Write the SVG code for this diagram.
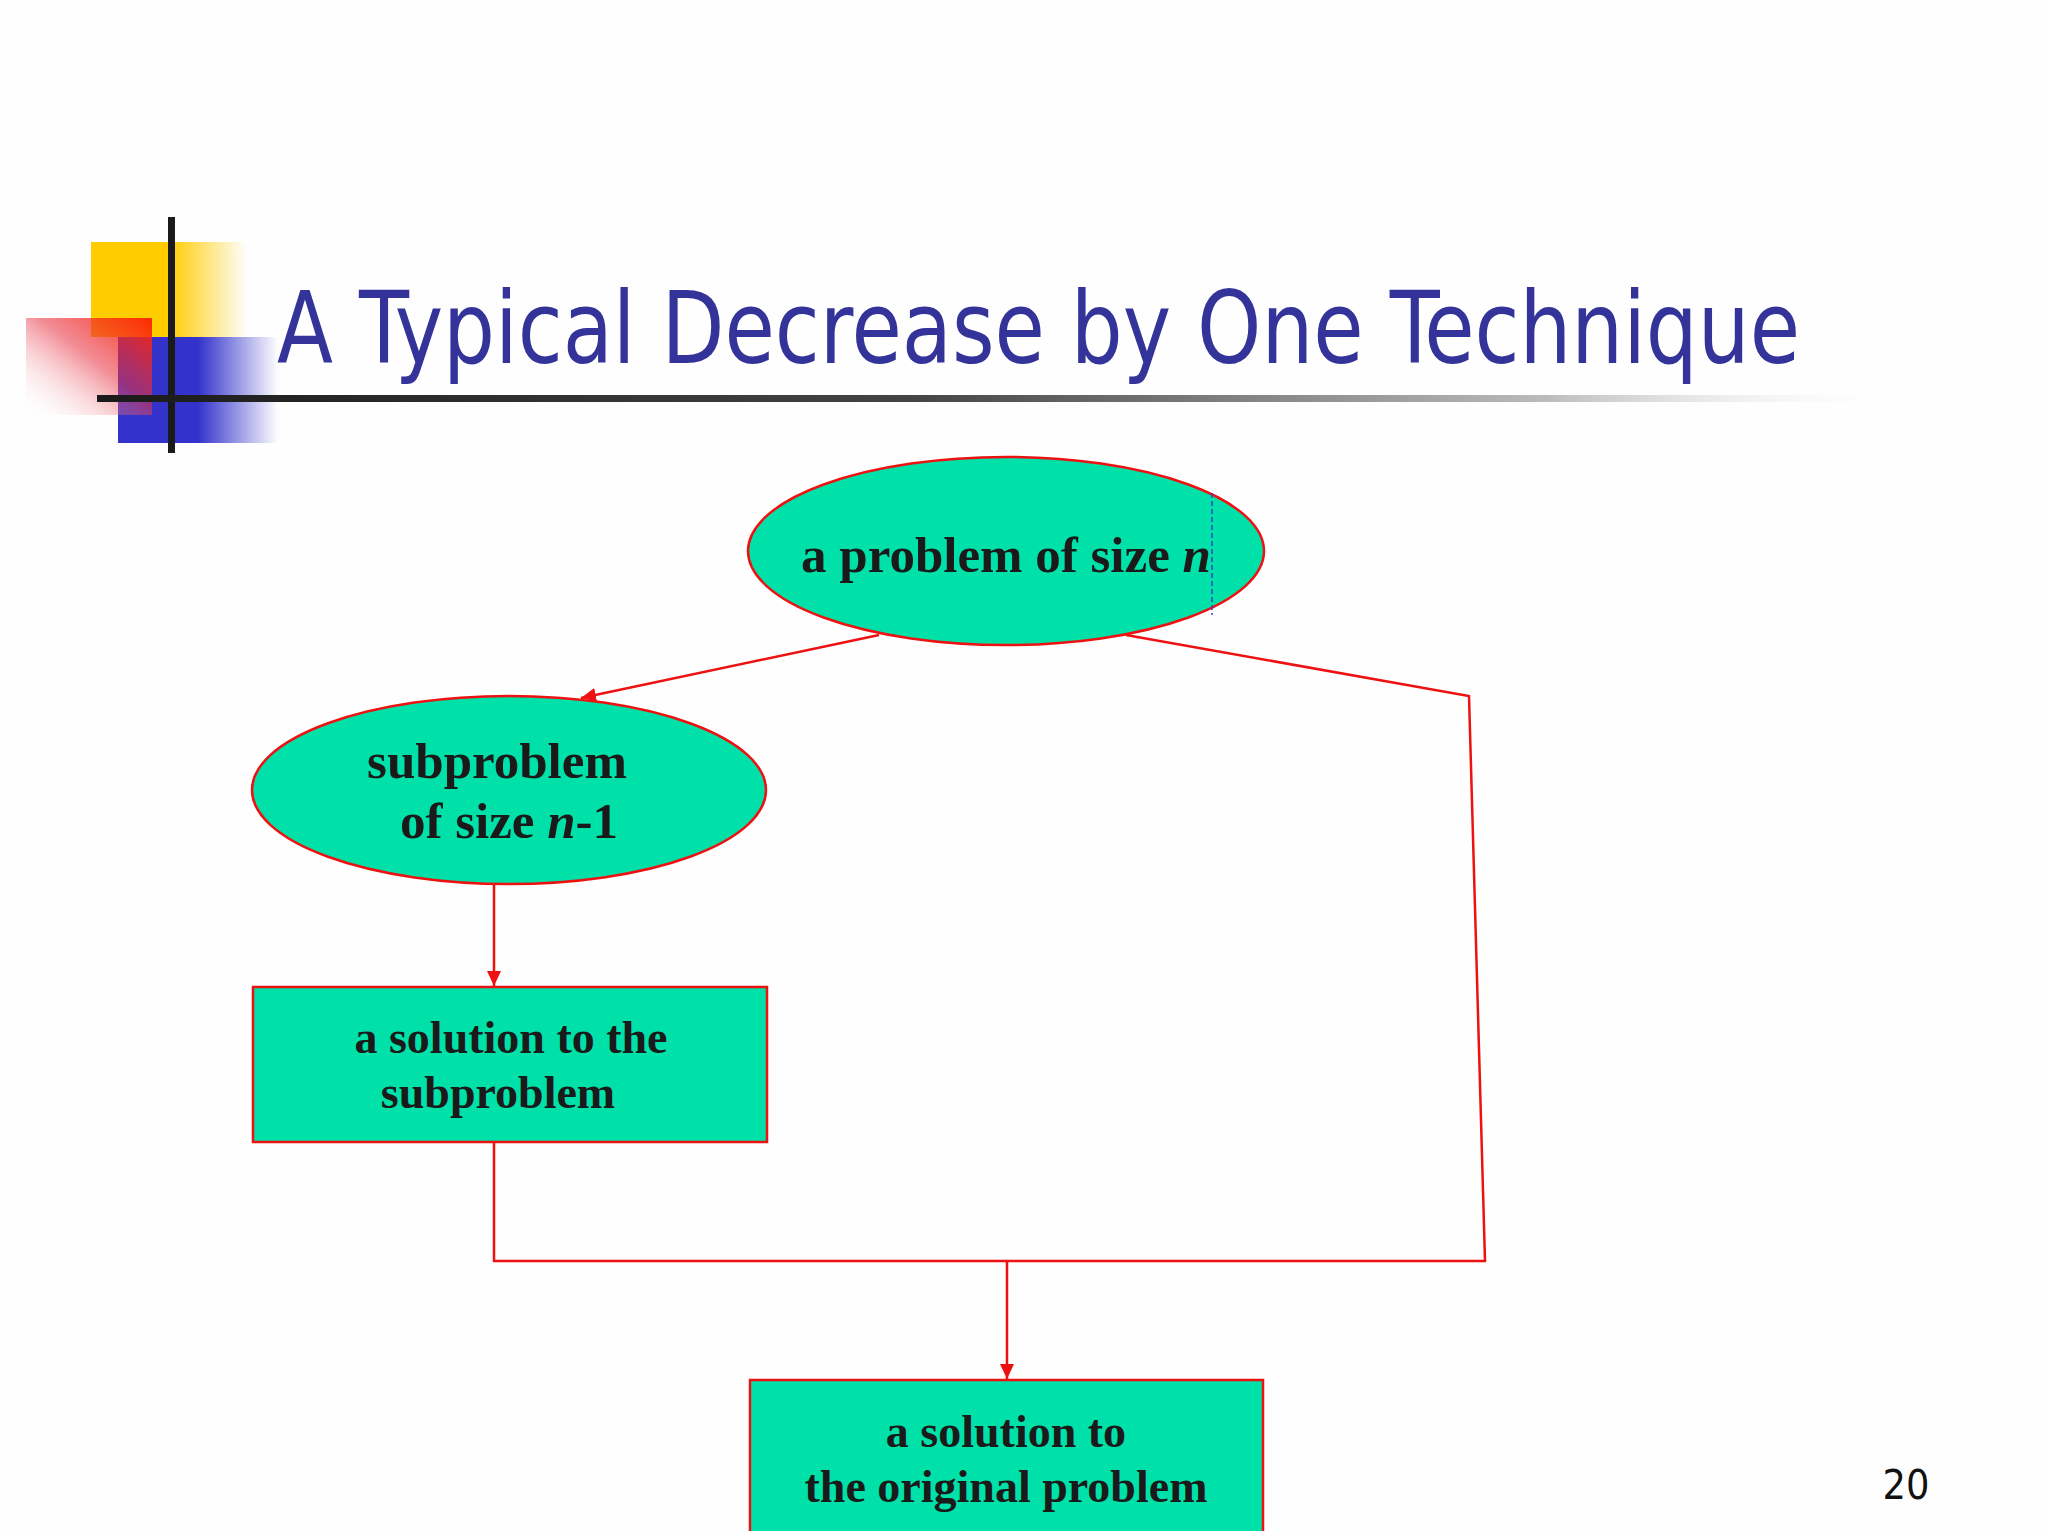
<svg xmlns="http://www.w3.org/2000/svg" width="2048" height="1531" viewBox="0 0 2048 1531">
  <style>
    .node { fill: #00E1A9; stroke: #EE1111; stroke-width: 2.5; }
    .lbl { font-family: "Liberation Serif", "Times New Roman", serif; font-weight: bold; fill: #1A1A1A; text-anchor: middle; }
    .big { font-size: 51px; }
    .sm { font-size: 46px; }
    .it { font-style: italic; }
    .conn { fill: none; stroke: #EE1111; stroke-width: 2.5; }
  </style>
  <defs>
    <marker id="arr" markerUnits="userSpaceOnUse" markerWidth="16" markerHeight="14" refX="15" refY="7" orient="auto">
      <path d="M0,0 L15,7 L0,14 z" fill="#EE1111"/>
    </marker>
    <linearGradient id="gYellow" x1="0" y1="0" x2="1" y2="0">
      <stop offset="0" stop-color="#FFCC00"/>
      <stop offset="0.5" stop-color="#FFCC00"/>
      <stop offset="1" stop-color="#FFCC00" stop-opacity="0"/>
    </linearGradient>
    <linearGradient id="gBlue" x1="0" y1="0" x2="1" y2="0">
      <stop offset="0" stop-color="#3333CC"/>
      <stop offset="0.5" stop-color="#3333CC"/>
      <stop offset="1" stop-color="#3333CC" stop-opacity="0"/>
    </linearGradient>
    <linearGradient id="gRed" x1="1" y1="0" x2="0" y2="1">
      <stop offset="0" stop-color="#FF2200" stop-opacity="0.95"/>
      <stop offset="0.45" stop-color="#E83040" stop-opacity="0.55"/>
      <stop offset="1" stop-color="#FFFFFF" stop-opacity="0"/>
    </linearGradient>
    <linearGradient id="gLine" x1="0" y1="0" x2="1" y2="0">
      <stop offset="0" stop-color="#1A1A1A"/>
      <stop offset="0.45" stop-color="#444444"/>
      <stop offset="0.8" stop-color="#BBBBBB"/>
      <stop offset="1" stop-color="#FFFFFF" stop-opacity="0"/>
    </linearGradient>
  </defs>
  <rect x="0" y="0" width="2048" height="1531" fill="#FEFEFE"/>

  <g id="logo">
    <rect x="91" y="242" width="156" height="95" fill="url(#gYellow)"/>
    <rect x="118" y="337" width="160" height="106" fill="url(#gBlue)"/>
    <rect x="26" y="318" width="126" height="97" fill="url(#gRed)"/>
    <rect x="168" y="217" width="7" height="236" fill="#1A1A1A"/>
    <rect x="97" y="395" width="1810" height="7" fill="url(#gLine)"/>
  </g>

  <g id="title">
    <text x="277" y="363" font-family="'DejaVu Sans Condensed', 'DejaVu Sans', sans-serif" font-size="100" fill="#333399" textLength="1523" lengthAdjust="spacingAndGlyphs">A Typical Decrease by One Technique</text>
  </g>

  <g id="connectors">
    <line class="conn" x1="879" y1="635" x2="581" y2="698" marker-end="url(#arr)"/>
    <polyline class="conn" points="1126,635 1469,696 1485,1261 494,1261 494,1142"/>
    <line class="conn" x1="494" y1="884" x2="494" y2="986" marker-end="url(#arr)"/>
    <line class="conn" x1="1007" y1="1261" x2="1007" y2="1379" marker-end="url(#arr)"/>
  </g>

  <g id="node-problem">
    <ellipse class="node" cx="1006" cy="551" rx="258" ry="94"/>
    <text class="lbl big" x="1006" y="572">a problem of size <tspan class="it">n</tspan></text>
    <line x1="1212" y1="493" x2="1212" y2="615" stroke="#3344CC" stroke-width="1.5" stroke-dasharray="5,3"/>
  </g>

  <g id="node-subproblem">
    <ellipse class="node" cx="509" cy="790" rx="257" ry="94"/>
    <text class="lbl big" x="497" y="778">subproblem</text>
    <text class="lbl big" x="509" y="838">of size <tspan class="it">n</tspan>-1</text>
  </g>

  <g id="node-subsolution">
    <rect class="node" x="253" y="987" width="514" height="155"/>
    <text class="lbl sm" x="511" y="1053">a solution to the</text>
    <text class="lbl sm" x="498" y="1108">subproblem</text>
  </g>

  <g id="node-solution">
    <rect class="node" x="750" y="1380" width="513" height="170"/>
    <text class="lbl sm" x="1006" y="1447">a solution to</text>
    <text class="lbl sm" x="1006" y="1502">the original problem</text>
  </g>

  <text id="page-number" x="1906" y="1499" font-family="'DejaVu Sans Condensed', 'DejaVu Sans', sans-serif" font-size="41" fill="#111111" text-anchor="middle">20</text>
</svg>
